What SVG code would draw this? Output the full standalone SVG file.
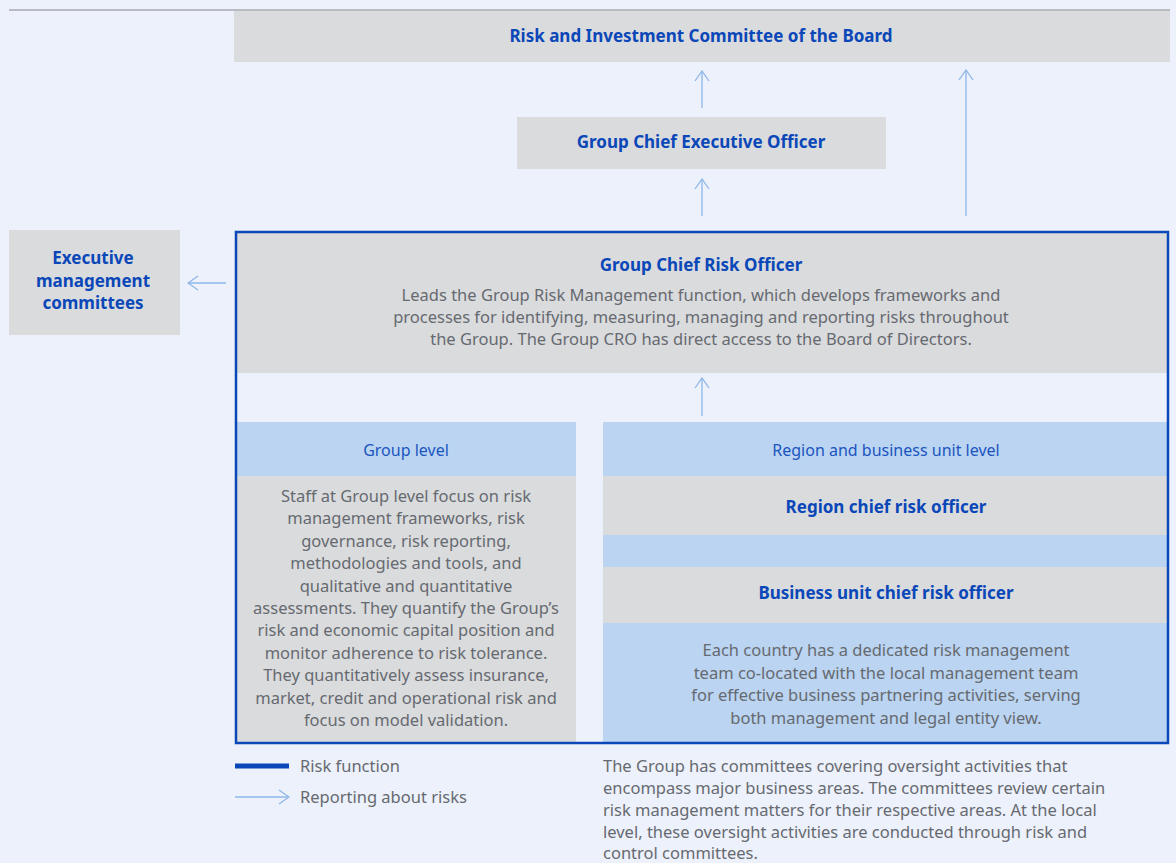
<svg xmlns="http://www.w3.org/2000/svg" width="1176" height="863" viewBox="0 0 1176 863">
<style>
.bg{fill:#edf1fb}
.gray{fill:#dadbdd}
.lb{fill:#bad4f1}
.t{font-family:"Noto Sans","Open Sans",sans-serif;font-size:16.5px;fill:#666a70}
.h{font-family:"Noto Sans","Open Sans",sans-serif;font-size:17px;font-weight:bold;fill:#0a47b8}
.hl{font-family:"Noto Sans","Open Sans",sans-serif;font-size:16px;fill:#1a55c0}
.c{text-anchor:middle}
.arr{stroke:#8db7e8;stroke-width:1.3;fill:none}
</style>
<defs>
<marker id="ah" viewBox="0 0 12 16" refX="11" refY="8" markerWidth="12" markerHeight="16" markerUnits="userSpaceOnUse" orient="auto">
<path d="M1,1 L11,8 L1,15" fill="none" stroke="#8db7e8" stroke-width="1.3"/>
</marker>
</defs>
<rect class="bg" x="0" y="0" width="1176" height="863"/>
<rect x="9" y="9" width="1161" height="2" fill="#b8bbc2"/>

<g id="board">
<rect class="gray" x="234" y="11" width="936" height="51"/>
<text class="h c" x="701" y="42">Risk and Investment Committee of the Board</text>
</g>

<g id="ceo">
<rect class="gray" x="517" y="117" width="369" height="52"/>
<text class="h c" x="701" y="148">Group Chief Executive Officer</text>
</g>

<g id="exec">
<rect class="gray" x="9" y="230" width="171" height="105"/>
<text class="h c" x="93" y="264">Executive</text>
<text class="h c" x="93" y="287">management</text>
<text class="h c" x="93" y="309">committees</text>
</g>

<g id="cro">
<rect class="gray" x="237" y="233" width="931" height="140"/>
<text class="h c" x="701" y="271">Group Chief Risk Officer</text>
<text class="t c" x="701" y="301">Leads the Group Risk Management function, which develops frameworks and</text>
<text class="t c" x="701" y="323">processes for identifying, measuring, managing and reporting risks throughout</text>
<text class="t c" x="701" y="345">the Group. The Group CRO has direct access to the Board of Directors.</text>
</g>

<g id="group-level">
<rect class="lb" x="237" y="422" width="339" height="54"/>
<text class="hl c" x="406" y="456">Group level</text>
<rect class="gray" x="237" y="476" width="339" height="266"/>
<text class="t c" x="406" y="502">Staff at Group level focus on risk</text>
<text class="t c" x="406" y="524.4">management frameworks, risk</text>
<text class="t c" x="406" y="546.8">governance, risk reporting,</text>
<text class="t c" x="406" y="569.2">methodologies and tools, and</text>
<text class="t c" x="406" y="591.6">qualitative and quantitative</text>
<text class="t c" x="406" y="614">assessments. They quantify the Group’s</text>
<text class="t c" x="406" y="636.4">risk and economic capital position and</text>
<text class="t c" x="406" y="658.8">monitor adherence to risk tolerance.</text>
<text class="t c" x="406" y="681.2">They quantitatively assess insurance,</text>
<text class="t c" x="406" y="703.6">market, credit and operational risk and</text>
<text class="t c" x="406" y="726">focus on model validation.</text>
</g>

<g id="region-level">
<rect class="lb" x="603" y="422" width="565" height="54"/>
<text class="hl c" x="886" y="456">Region and business unit level</text>
</g>

<g id="region-cro">
<rect class="gray" x="603" y="476" width="565" height="59"/>
<text class="h c" x="886" y="513">Region chief risk officer</text>
<rect class="lb" x="603" y="535" width="565" height="32"/>
</g>

<g id="bu-cro">
<rect class="gray" x="603" y="567" width="565" height="56"/>
<text class="h c" x="886" y="599">Business unit chief risk officer</text>
<rect class="lb" x="603" y="623" width="565" height="119"/>
<text class="t c" x="886" y="656">Each country has a dedicated risk management</text>
<text class="t c" x="886" y="678.5">team co-located with the local management team</text>
<text class="t c" x="886" y="701">for effective business partnering activities, serving</text>
<text class="t c" x="886" y="723.5">both management and legal entity view.</text>
</g>

<g id="risk-frame">
<rect x="236" y="232" width="932" height="511" fill="none" stroke="#0a47b8" stroke-width="2.5"/>
</g>

<g id="connectors">
<line class="arr" x1="702" y1="108" x2="702" y2="71" marker-end="url(#ah)"/>
<line class="arr" x1="702" y1="216" x2="702" y2="179" marker-end="url(#ah)"/>
<line class="arr" x1="966" y1="216" x2="966" y2="70" marker-end="url(#ah)"/>
<line class="arr" x1="226" y1="283" x2="188" y2="283" marker-end="url(#ah)"/>
<line class="arr" x1="702" y1="416" x2="702" y2="378" marker-end="url(#ah)"/>
</g>

<g id="legend">
<line x1="235" y1="766" x2="289" y2="766" stroke="#0a47b8" stroke-width="5"/>
<text class="t" x="300" y="772">Risk function</text>
<line class="arr" x1="235" y1="797" x2="289" y2="797" marker-end="url(#ah)"/>
<text class="t" x="300" y="803">Reporting about risks</text>
</g>

<g id="note">
<text class="t" x="603" y="772">The Group has committees covering oversight activities that</text>
<text class="t" x="603" y="794">encompass major business areas. The committees review certain</text>
<text class="t" x="603" y="816">risk management matters for their respective areas. At the local</text>
<text class="t" x="603" y="838">level, these oversight activities are conducted through risk and</text>
<text class="t" x="603" y="859">control committees.</text>
</g>
</svg>
